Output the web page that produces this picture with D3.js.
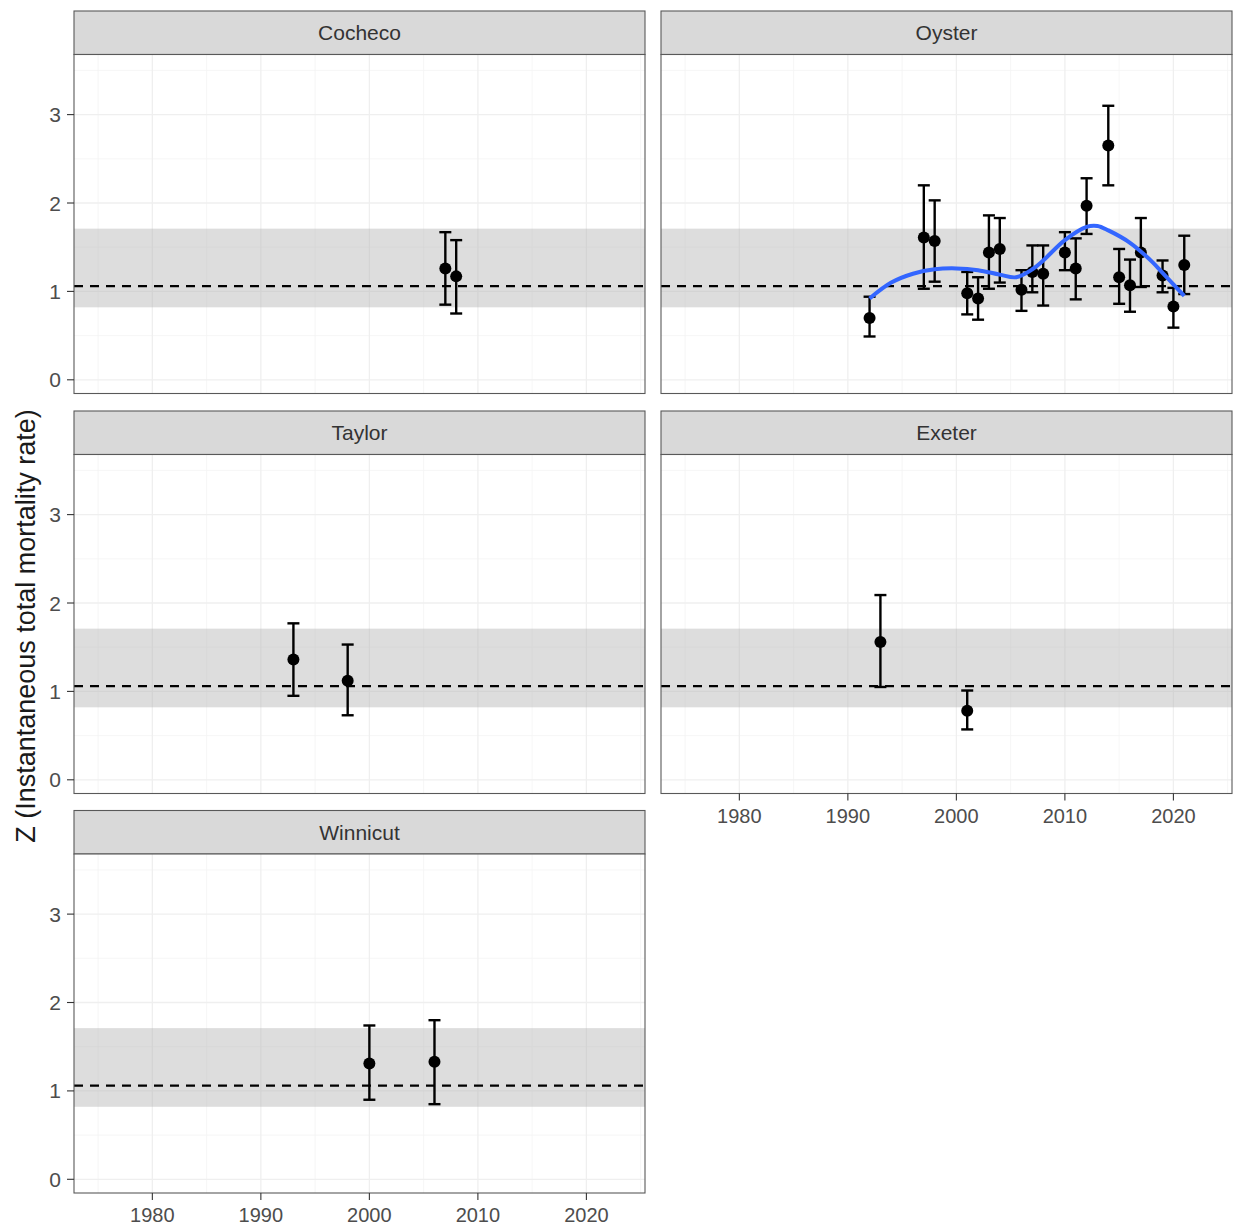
<!DOCTYPE html>
<html>
<head>
<meta charset="utf-8">
<script src="https://cdn.jsdelivr.net/npm/d3@7"></script>
<style>
  body { margin: 0; background: #fff; }
  svg { display: block; font-family: "Liberation Sans", Arial, sans-serif; }
</style>
</head>
<body>
<svg id="chart" width="1233" height="1228"></svg>
<script>
// ---------------- data ----------------
const sites = ["Cocheco", "Oyster", "Taylor", "Exeter", "Winnicut"];

const cochecoYears = [2007, 2008];
const cochecoZ     = [1.26, 1.17];
const cochecoLo    = [0.85, 0.75];
const cochecoHi    = [1.67, 1.58];

const oysterYears = [1992, 1997, 1998, 2001, 2002, 2003, 2004, 2006, 2007, 2008, 2010, 2011, 2012, 2014, 2015, 2016, 2017, 2019, 2020, 2021];
const oysterZ     = [0.70, 1.61, 1.57, 0.98, 0.92, 1.44, 1.48, 1.02, 1.22, 1.20, 1.44, 1.26, 1.97, 2.65, 1.16, 1.07, 1.44, 1.18, 0.83, 1.30];
const oysterLo    = [0.49, 1.03, 1.11, 0.74, 0.68, 1.03, 1.10, 0.78, 0.99, 0.84, 1.24, 0.91, 1.65, 2.20, 0.86, 0.77, 1.05, 0.99, 0.59, 0.97];
const oysterHi    = [0.94, 2.20, 2.03, 1.22, 1.16, 1.86, 1.83, 1.24, 1.52, 1.52, 1.67, 1.60, 2.28, 3.10, 1.48, 1.36, 1.83, 1.35, 1.04, 1.63];

const taylorYears = [1993, 1998];
const taylorZ     = [1.36, 1.12];
const taylorLo    = [0.95, 0.73];
const taylorHi    = [1.77, 1.53];

const exeterYears = [1993, 2001];
const exeterZ     = [1.56, 0.78];
const exeterLo    = [1.05, 0.57];
const exeterHi    = [2.09, 1.01];

const winnicutYears = [2000, 2006];
const winnicutZ     = [1.31, 1.33];
const winnicutLo    = [0.90, 0.85];
const winnicutHi    = [1.74, 1.80];

// Oyster smoother
const smoothYears = [1992, 1994, 1996, 1998, 2000, 2002, 2004, 2005.5, 2007, 2008, 2010, 2012, 2013, 2014, 2016, 2018, 2019, 2020, 2021];
const smoothZ     = [0.92, 1.10, 1.20, 1.25, 1.26, 1.24, 1.19, 1.16, 1.25, 1.35, 1.58, 1.73, 1.74, 1.69, 1.55, 1.34, 1.21, 1.08, 0.95];

// reference level and band
const refMean = 1.06;
const bandLo = 0.82;
const bandHi = 1.71;

const xTicks = [1980, 1990, 2000, 2010, 2020];
const yTicks = [0, 1, 2, 3];
const yLabel = "Z (Instantaneous total mortality rate)";

// ---------------- build ----------------
function rows(years, z, lo, hi) {
  return years.map((y, i) => ({ year: y, z: z[i], lo: lo[i], hi: hi[i] }));
}
const siteData = {
  Cocheco: rows(cochecoYears, cochecoZ, cochecoLo, cochecoHi),
  Oyster: rows(oysterYears, oysterZ, oysterLo, oysterHi),
  Taylor: rows(taylorYears, taylorZ, taylorLo, taylorHi),
  Exeter: rows(exeterYears, exeterZ, exeterLo, exeterHi),
  Winnicut: rows(winnicutYears, winnicutZ, winnicutLo, winnicutHi)
};
const smooth = smoothYears.map((y, i) => ({ year: y, z: smoothZ[i] }));

const svg = d3.select("#chart");
const colX = [74, 661];
const panelW = 571;
const stripTop = [11, 411, 810.5];
const stripH = 43.5;
const plotH = 339;

const x = d3.scaleLinear().domain([1972.78, 2025.4]).range([0, panelW]);
const y = d3.scaleLinear().domain([-0.155, 3.68]).range([plotH, 0]);

const layout = [
  { site: "Cocheco", col: 0, row: 0, yAxis: true, xAxis: false },
  { site: "Oyster", col: 1, row: 0, yAxis: false, xAxis: false },
  { site: "Taylor", col: 0, row: 1, yAxis: true, xAxis: false },
  { site: "Exeter", col: 1, row: 1, yAxis: false, xAxis: true },
  { site: "Winnicut", col: 0, row: 2, yAxis: true, xAxis: true }
];

const borderCol = "#595959";
const textCol = "#4d4d4d";

layout.forEach(p => {
  const px = colX[p.col];
  const sy = stripTop[p.row];
  const py = sy + stripH;

  // strip
  const strip = svg.append("g").attr("transform", `translate(${px},${sy})`);
  strip.append("rect").attr("width", panelW).attr("height", stripH)
    .attr("fill", "#d9d9d9").attr("stroke", borderCol).attr("stroke-width", 1.1);
  strip.append("text").attr("x", panelW / 2).attr("y", stripH / 2 + 7.5)
    .attr("text-anchor", "middle").attr("font-size", 21).attr("fill", "#333")
    .text(p.site);

  const g = svg.append("g").attr("transform", `translate(${px},${py})`);
  g.append("rect").attr("width", panelW).attr("height", plotH).attr("fill", "#fff");

  // grid
  const minorY = [0.5, 1.5, 2.5, 3.5];
  const minorX = [1975, 1985, 1995, 2005, 2015, 2025];
  g.selectAll(".gminy").data(minorY).join("line")
    .attr("x1", 0).attr("x2", panelW).attr("y1", d => y(d)).attr("y2", d => y(d))
    .attr("stroke", "#f4f4f4").attr("stroke-width", 0.8);
  g.selectAll(".gminx").data(minorX).join("line")
    .attr("y1", 0).attr("y2", plotH).attr("x1", d => x(d)).attr("x2", d => x(d))
    .attr("stroke", "#f4f4f4").attr("stroke-width", 0.8);
  g.selectAll(".gmajy").data(yTicks).join("line")
    .attr("x1", 0).attr("x2", panelW).attr("y1", d => y(d)).attr("y2", d => y(d))
    .attr("stroke", "#efefef").attr("stroke-width", 1.3);
  g.selectAll(".gmajx").data(xTicks).join("line")
    .attr("y1", 0).attr("y2", plotH).attr("x1", d => x(d)).attr("x2", d => x(d))
    .attr("stroke", "#efefef").attr("stroke-width", 1.3);

  // band
  g.append("rect").attr("x", 0).attr("width", panelW)
    .attr("y", y(bandHi)).attr("height", y(bandLo) - y(bandHi))
    .attr("fill", "#b3b3b3").attr("fill-opacity", 0.45);

  // dashed reference
  g.append("line").attr("x1", 0).attr("x2", panelW)
    .attr("y1", y(refMean)).attr("y2", y(refMean))
    .attr("stroke", "#000").attr("stroke-width", 2.2).attr("stroke-dasharray", "9,7");

  const data = siteData[p.site];
  // error bars
  const eb = g.selectAll(".eb").data(data).join("g");
  eb.append("line").attr("x1", d => x(d.year)).attr("x2", d => x(d.year))
    .attr("y1", d => y(d.lo)).attr("y2", d => y(d.hi))
    .attr("stroke", "#000").attr("stroke-width", 2.4);
  eb.append("line").attr("x1", d => x(d.year) - 6).attr("x2", d => x(d.year) + 6)
    .attr("y1", d => y(d.hi)).attr("y2", d => y(d.hi))
    .attr("stroke", "#000").attr("stroke-width", 2.4);
  eb.append("line").attr("x1", d => x(d.year) - 6).attr("x2", d => x(d.year) + 6)
    .attr("y1", d => y(d.lo)).attr("y2", d => y(d.lo))
    .attr("stroke", "#000").attr("stroke-width", 2.4);

  // points
  g.selectAll(".pt").data(data).join("circle")
    .attr("cx", d => x(d.year)).attr("cy", d => y(d.z)).attr("r", 6)
    .attr("fill", "#000");

  // smoother
  if (p.site === "Oyster") {
    const line = d3.line().x(d => x(d.year)).y(d => y(d.z)).curve(d3.curveCatmullRom.alpha(0.5));
    g.append("path").datum(smooth).attr("d", line)
      .attr("fill", "none").attr("stroke", "#3366FF").attr("stroke-width", 4)
      .attr("stroke-linecap", "butt");
  }

  // border
  g.append("rect").attr("width", panelW).attr("height", plotH)
    .attr("fill", "none").attr("stroke", borderCol).attr("stroke-width", 1.1);

  // y axis
  if (p.yAxis) {
    const ya = g.append("g");
    ya.selectAll("line").data(yTicks).join("line")
      .attr("x1", -7).attr("x2", 0).attr("y1", d => y(d)).attr("y2", d => y(d))
      .attr("stroke", "#333").attr("stroke-width", 1.1);
    ya.selectAll("text").data(yTicks).join("text")
      .attr("x", -13).attr("y", d => y(d) + 7.5).attr("text-anchor", "end")
      .attr("font-size", 21).attr("fill", textCol).text(d => d);
  }
  // x axis
  if (p.xAxis) {
    const xa = g.append("g").attr("transform", `translate(0,${plotH})`);
    xa.selectAll("line").data(xTicks).join("line")
      .attr("x1", d => x(d)).attr("x2", d => x(d)).attr("y1", 0).attr("y2", 7)
      .attr("stroke", "#333").attr("stroke-width", 1.1);
    xa.selectAll("text").data(xTicks).join("text")
      .attr("x", d => x(d)).attr("y", 29).attr("text-anchor", "middle")
      .attr("font-size", 20).attr("fill", textCol).text(d => d);
  }
});

// y title
svg.append("text")
  .attr("transform", "translate(35,626) rotate(-90)")
  .attr("text-anchor", "middle").attr("font-size", 27).attr("fill", "#1a1a1a")
  .text(yLabel);
</script>
</body>
</html>
